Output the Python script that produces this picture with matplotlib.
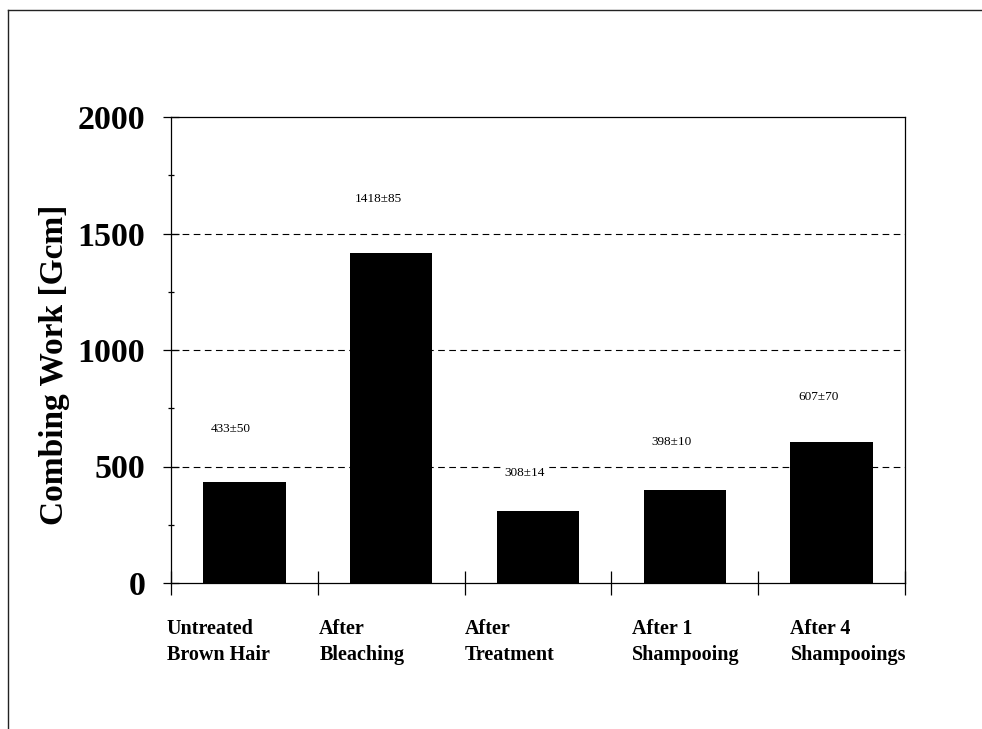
import matplotlib
matplotlib.use("Agg")
import matplotlib.pyplot as plt
from matplotlib.lines import Line2D
from matplotlib.ticker import MultipleLocator

# Combing work of hair tresses at each treatment stage
categories = ["Untreated\nBrown Hair", "After\nBleaching", "After\nTreatment",
              "After 1\nShampooing", "After 4\nShampooings"]
combing_work = [433, 1418, 308, 398, 607]
std_dev = [50, 85, 14, 10, 70]

# vertical placement of the "mean±sd" annotations (data units)
label_heights = [660, 1648, 472, 605, 798]
# horizontal anchors of the category labels (data units)
category_label_x = [-0.53, 0.51, 1.5, 2.64, 3.72]

plt.rcParams["font.family"] = ["Liberation Serif", "DejaVu Serif"]

W, H = 982, 729
fig = plt.figure(figsize=(W / 100, H / 100), dpi=100)
ax = fig.add_axes([171 / W, 1 - 583 / H, (905 - 171) / W, (583 - 117) / H])

x = list(range(len(categories)))
ax.bar(x, combing_work, width=0.56, color="black", zorder=3)

for xi, val, sd, yh in zip(x, combing_work, std_dev, label_heights):
    ax.text(xi - 0.09, yh, f"{val}\u00b1{sd}", ha="center", va="center",
            fontsize=9.5, color="black", zorder=4,
            bbox=dict(boxstyle="square,pad=0.25", fc="white", ec="none"))

ax.set_xlim(-0.5, len(categories) - 0.5)
ax.set_ylim(0, 2000)

# y axis
ax.yaxis.set_major_locator(MultipleLocator(500))
ax.yaxis.set_minor_locator(MultipleLocator(250))
ax.tick_params(axis="y", which="major", direction="inout", length=11, width=0.9,
               pad=13, labelsize=24.5)
ax.tick_params(axis="y", which="minor", direction="inout", length=5, width=0.9)
for lbl in ax.get_yticklabels():
    lbl.set_fontweight("bold")
for yv in (500, 1000, 1500):
    ax.axhline(yv, color="black", lw=0.8, ls=(0, (6, 4)), zorder=1)

ax.set_ylabel("Combing Work [Gcm]", fontsize=24, fontweight="bold")
ax.yaxis.set_label_coords(-0.137, 0.468)

# x axis: ticks at category boundaries, labels set as free text
ax.set_xticks([i - 0.5 for i in range(len(categories) + 1)])
ax.set_xticklabels([])
ax.tick_params(axis="x", which="major", direction="inout", length=17, width=0.9)
for lx, name in zip(category_label_x, categories):
    ax.text(lx, -0.078, name, transform=ax.get_xaxis_transform(), ha="left",
            va="top", fontsize=14.5, fontweight="bold", linespacing=1.35)

for sp in ax.spines.values():
    sp.set_linewidth(0.9)
    sp.set_color("black")

# page frame
fig.add_artist(Line2D([8 / W, 1.0], [1 - 10 / H, 1 - 10 / H], color="#222222",
                      lw=1.0, transform=fig.transFigure))
fig.add_artist(Line2D([8 / W, 8 / W], [1 - 10 / H, 0.0], color="#222222",
                      lw=1.0, transform=fig.transFigure))

fig.savefig("out.png", dpi=100)
